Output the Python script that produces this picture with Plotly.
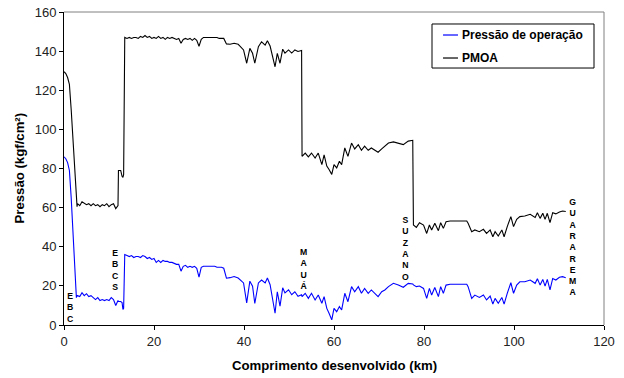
import plotly.graph_objects as go

# Distance along the pipeline (km) and pressures (kgf/cm²), by section
km_a = [0, 0.4, 0.8, 1.2, 1.6, 2.0, 2.4, 2.75, 2.9]
pmoa_a = [129.5, 128.5, 126.5, 123, 110, 94.5, 79, 65, 60.5]
oper_a = [86, 85, 83, 79, 65, 46.5, 28, 14, 15]

km_b = [3.0, 3.5, 4.0, 4.5, 5.0, 5.5, 6.0, 6.5, 7.0, 7.5,
        8.0, 8.5, 9.0, 9.5, 10.0, 10.5, 11.0, 11.5, 12.0]
pmoa_b = [62, 61, 63, 62, 61.5, 62, 61, 62, 61, 61.5,
          60.5, 61.5, 61, 62, 60.5, 61.5, 62, 59.5, 61]
oper_b = [15, 14.5, 16.5, 15, 16, 14.5, 15, 14, 13, 14,
          12.5, 13, 12.5, 13, 12.5, 14, 13, 10, 12.5]

km_c = [12.1, 12.6, 12.9, 13.1, 13.25, 13.35]
pmoa_c = [79, 79, 76, 75.5, 77, 147]
oper_c = [12, 12, 11.5, 8, 8.5, 36]

km_d = [13.5, 14.0, 14.5, 15.0, 15.5, 16.0, 16.5, 17.0, 17.5, 18.0,
        18.5, 19.0, 19.5, 20.0, 20.5, 21.0, 21.5, 22.0, 22.5, 23.0,
        23.5, 24.0, 24.5, 25.0, 25.5, 26.0, 26.5, 27.0, 27.5, 28.0,
        28.5, 29.0, 29.5, 30.0, 30.5, 31.0, 31.5, 32.0, 32.5, 33.0,
        33.5, 34.0, 34.5, 35.0, 35.5]
pmoa_d = [147, 146.5, 147, 146.5, 147, 147, 146.5, 147.5, 147, 148,
          147, 147.5, 146.5, 147, 146.5, 147.5, 146.5, 147, 146, 147,
          146.5, 147, 146.5, 146, 146.5, 144, 146, 146.5, 146, 146.5,
          145.5, 146.5, 145.5, 142.5, 146, 147, 147, 147, 147, 147,
          147, 147, 146.5, 146.5, 146.5]
oper_d = [36, 35.5, 35, 35.5, 34.5, 35, 35, 34.5, 35.5, 35,
          34, 34.5, 33.5, 34, 32, 33, 32, 33, 32.5, 32.5,
          32, 32, 31.5, 31, 31, 27.5, 30, 30.5, 29.5, 30,
          29.5, 30, 29, 24.5, 29.5, 30, 30, 30, 30, 30,
          30, 29.5, 29.5, 29.5, 29]

km_e = [36.1, 36.9, 37.8, 38.7, 39.1, 39.9, 40.6, 41.3, 41.9, 42.4,
        43.2, 43.9, 44.7, 45.2, 45.8, 46.4, 46.9, 47.4, 48.0, 48.6,
        49.1, 49.9, 50.6, 51.3, 52.0, 52.8]
pmoa_e = [143.7, 143.5, 144, 143.5, 142.6, 140.6, 133.8, 141.4, 138.9, 133.8,
          142.3, 144.8, 143.1, 145.3, 142.6, 136.3, 132, 138.9, 133.8, 141,
          139, 140.6, 139, 140.6, 139.8, 140.3]
oper_e = [23.9, 24.2, 24.8, 24, 23, 21.5, 11.3, 22.4, 19.8, 11,
          21.5, 23, 21.5, 24, 20.6, 11.3, 6, 17, 9.6, 19,
          16.4, 18, 15.5, 17, 14.7, 15.5]

km_f = [52.9, 53.6, 54.3, 55.0, 55.8, 56.5, 57.3, 57.8, 58.4, 58.9,
        59.5, 60.0, 60.6, 61.2, 61.7, 62.4, 63.1, 63.9, 64.6, 65.4,
        66.1, 66.8, 67.6, 68.3, 69.1, 69.8, 70.6, 71.3, 72.1, 73.2,
        74.3, 75.4, 76.5, 77.5]
pmoa_f = [86.2, 87.9, 85.9, 87.9, 85.3, 87.9, 82, 87, 81.2, 79.5,
          77, 82, 80.3, 83.7, 82, 90.5, 86.2, 93, 90, 92.2,
          89.3, 91.4, 89.3, 90.5, 89.3, 88.3, 90, 91.4, 93, 93.6,
          93, 92.2, 94, 94.4]
oper_f = [14.5, 16.2, 13.6, 16.2, 12.8, 15.3, 11.1, 14.5, 8.5, 6,
          2.6, 8.5, 6.8, 9.4, 7.7, 16.2, 11.9, 19.6, 17, 19.6,
          16.2, 18.7, 16.2, 17.9, 15.9, 14.5, 17, 17.9, 19.6, 21.3,
          20.4, 19.3, 21.3, 21]

km_g = [77.65, 78.3, 79.0, 79.9, 80.6, 81.2, 81.7, 82.4, 83.2, 83.7,
        84.3, 84.9, 85.8, 87.5, 89.5, 89.8, 90.6, 91.3, 92.3, 93.2,
        93.9, 94.7, 95.3, 95.8, 96.5, 97.3, 97.8, 98.5, 99.3, 99.9,
        100.6, 101.3, 102.4, 103.6, 104.7, 105.2, 105.8, 106.4, 106.9, 107.4,
        108.0, 108.6, 109.3, 110.1, 110.8, 111.5]
pmoa_g = [51.1, 49.9, 52.3, 51.1, 46.8, 51.1, 48.6, 52, 48.2, 52.3,
          49.4, 52.8, 53.2, 53.2, 53.2, 52, 47.7, 48.6, 47.7, 48.9,
          46.8, 48.6, 45.1, 47.7, 45.5, 48.6, 45.1, 50.3, 55.4, 50.3,
          54, 55.4, 55.7, 56.6, 55, 57.4, 54.5, 57.1, 54, 57.1,
          52.3, 57.4, 56.8, 57.8, 58.3, 58]
oper_g = [20.5, 19.6, 19.9, 18.7, 13.6, 18.7, 15.3, 19.2, 14.5, 19.6,
          16.2, 20.4, 20.8, 20.8, 20.8, 19.6, 13.6, 15.3, 14.1, 15.3,
          12.8, 14.8, 10.7, 13.6, 11.1, 14.1, 10.7, 16.2, 21.6, 16.2,
          20.4, 22.1, 22.1, 23, 21.3, 23.7, 20.4, 23.3, 19.9, 23.3,
          17.9, 23.8, 23, 24.4, 24.7, 24.2]

km = km_a + km_b + km_c + km_d + km_e + km_f + km_g
pmoa = pmoa_a + pmoa_b + pmoa_c + pmoa_d + pmoa_e + pmoa_f + pmoa_g
operacao = oper_a + oper_b + oper_c + oper_d + oper_e + oper_f + oper_g

# Station names and where they sit (km, pressure at label centre)
estacoes = ["EBC", "EBCS", "MAUÁ", "SUZANO", "GUARAREMA"]
estacao_km = [1.5, 11.5, 53.3, 75.8, 113.1]
estacao_y = [8.9, 27.9, 28.6, 39.1, 39.7]

serie_nomes = ["Pressão de operação", "PMOA"]
serie_cores = ["#0000FF", "#000000"]

x_titulo = "Comprimento desenvolvido (km)"
y_titulo = "Pressão (kgf/cm²)"

FONT = "Liberation Sans, Arial, sans-serif"

fig = go.Figure()
fig.add_trace(go.Scatter(x=km, y=operacao, mode="lines", name=serie_nomes[0],
                         line=dict(color=serie_cores[0], width=1.1)))
fig.add_trace(go.Scatter(x=km, y=pmoa, mode="lines", name=serie_nomes[1],
                         line=dict(color=serie_cores[1], width=1.1)))

# Vertical station labels, one letter per line
for nome, xk, yk in zip(estacoes, estacao_km, estacao_y):
    fig.add_annotation(x=xk, y=yk, xref="x", yref="y",
                       text="<b>" + "<br>".join(nome) + "</b>",
                       showarrow=False, xanchor="center", yanchor="middle",
                       font=dict(family=FONT, size=8.7, color="#000"),
                       align="center")

# Axis titles
fig.add_annotation(x=0.5, y=-0.1278, xref="paper", yref="paper",
                   text="<b>%s</b>" % x_titulo, showarrow=False,
                   xanchor="center", yanchor="middle",
                   font=dict(family=FONT, size=13.2, color="#000"))
fig.add_annotation(x=-0.0833, y=0.5, xref="paper", yref="paper",
                   text="<b>%s</b>" % y_titulo, showarrow=False,
                   textangle=-90, xanchor="center", yanchor="middle",
                   font=dict(family=FONT, size=13.2, color="#000"))

# Frame: grey top and right edges
shapes = [
    dict(type="line", xref="paper", yref="paper", x0=0, x1=1, y0=1, y1=1,
         line=dict(color="#808080", width=1)),
    dict(type="line", xref="paper", yref="paper", x0=1, x1=1, y0=0, y1=1,
         line=dict(color="#808080", width=1)),
    # legend box
    dict(type="rect", xref="paper", yref="paper", x0=0.6815, x1=0.9815,
         y0=0.821, y1=0.9617, line=dict(color="#000", width=1),
         fillcolor="white", layer="above"),
]
leg_y = [0.9265, 0.853]
for nome, cor, yy in zip(serie_nomes, serie_cores, leg_y):
    shapes.append(dict(type="line", xref="paper", yref="paper", x0=0.7019,
                       x1=0.7296, y0=yy, y1=yy, layer="above",
                       line=dict(color=cor, width=1.2)))
    fig.add_annotation(x=0.7333, y=yy, xref="paper", yref="paper",
                       text="<b>%s</b>" % nome, showarrow=False,
                       xanchor="left", yanchor="middle",
                       font=dict(family=FONT, size=12, color="#000"))

axis_common = dict(showgrid=False, zeroline=False, showline=True,
                   linecolor="#000", linewidth=1, ticks="outside", ticklen=4,
                   tickcolor="#000", tickwidth=1, automargin=False,
                   tickfont=dict(family=FONT, size=13, color="#222"))

fig.update_layout(
    width=624, height=378,
    margin=dict(l=64, r=20, t=12, b=53),
    paper_bgcolor="white", plot_bgcolor="white",
    showlegend=False,
    shapes=shapes,
    xaxis=dict(range=[0, 120], dtick=20, tick0=0, **axis_common),
    yaxis=dict(range=[0, 160], dtick=20, tick0=0, **axis_common),
)

fig.write_html("out.html")
